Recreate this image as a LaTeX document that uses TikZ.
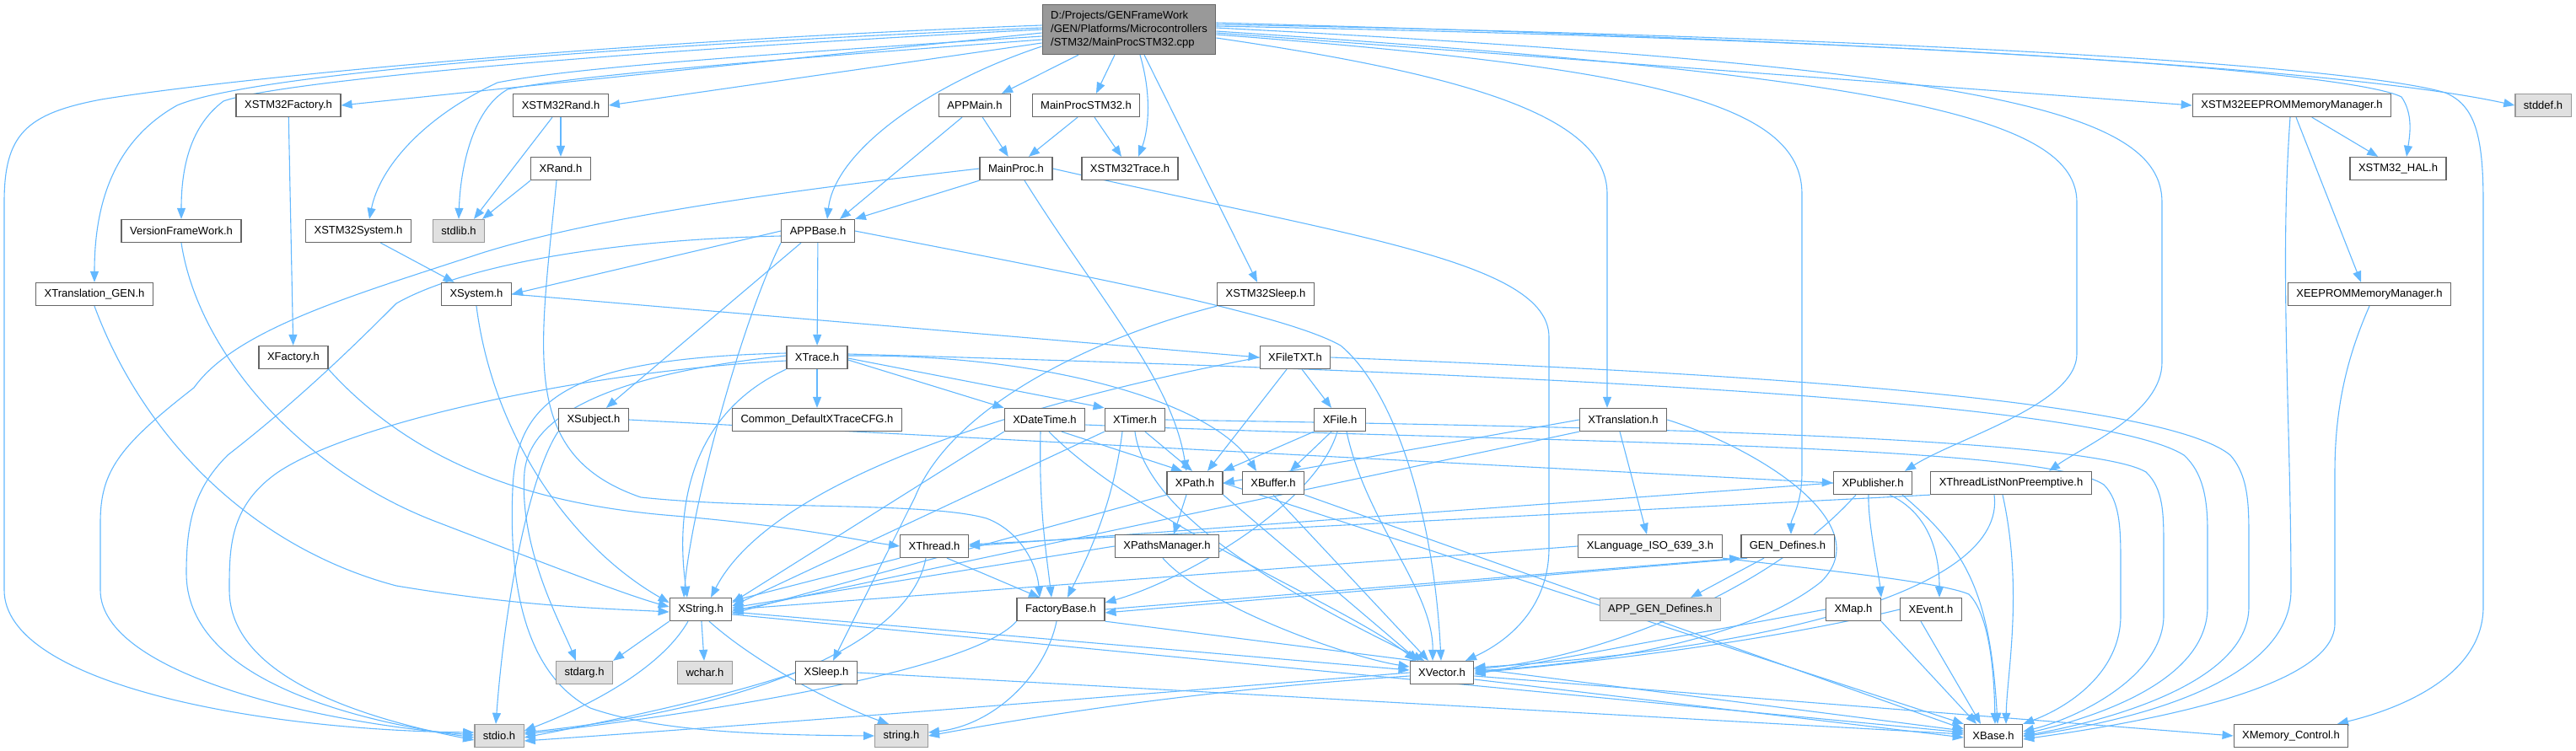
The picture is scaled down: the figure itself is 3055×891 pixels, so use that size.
\documentclass[tikz,border=0pt]{standalone}
\usepackage{fontspec}
\setmainfont{Liberation Sans}
\usepackage{xcolor}
\usetikzlibrary{arrows.meta,positioning,backgrounds}

\definecolor{edgeblue}{HTML}{63B8FF}
\definecolor{boxline}{HTML}{666666}
\definecolor{sysline}{HTML}{999999}
\definecolor{sysfill}{HTML}{E0E0E0}
\definecolor{srcfill}{HTML}{999999}

\begin{document}
\begin{tikzpicture}[
    x=1pt, y=-1pt,
    font=\fontsize{13}{16}\selectfont,
    hdr/.style={
        draw=boxline,
        line width=1.3pt,
        fill=white,
        minimum height=27pt,
        inner xsep=10pt,
        inner ysep=0pt
    },
    sys/.style={
        hdr,
        draw=sysline,
        fill=sysfill
    },
    srcfile/.style={
        hdr,
        fill=srcfill,
        align=left,
        minimum height=59pt
    },
    arr/.style={
        -{Triangle[length=13pt,width=10pt]},
        draw=edgeblue,
        line width=1.1pt
    }
]

\useasboundingbox (0,0) rectangle (3055,891);

% source file
\node[srcfile] (root) at (1339,35)
{D:/Projects/GENFrameWork\\/GEN/Platforms/Microcontrollers\\/STM32/MainProcSTM32.cpp};

% first row
\node[hdr] (xstmfactory) at (342,125) {XSTM32Factory.h};
\node[hdr] (xstmrand) at (665,125) {XSTM32Rand.h};
\node[hdr] (appmain) at (1156,125) {APPMain.h};
\node[hdr] (mainprocstm) at (1288,125) {MainProcSTM32.h};
\node[hdr] (xstmeeprom) at (2718,125) {XSTM32EEPROMMemoryManager.h};
\node[sys] (stddef) at (3016,125) {stddef.h};

% second row
\node[hdr] (xrand) at (665,200) {XRand.h};
\node[hdr] (mainproc) at (1205,200) {MainProc.h};
\node[hdr] (xstmtrace) at (1340,200) {XSTM32Trace.h};
\node[hdr] (xstmhal) at (2844,200) {XSTM32\_HAL.h};

% third row
\node[hdr] (versionfw) at (215,274) {VersionFrameWork.h};
\node[hdr] (xstmsystem) at (425,274) {XSTM32System.h};
\node[sys] (stdlib) at (544,274) {stdlib.h};
\node[hdr] (appbase) at (970,274) {APPBase.h};

% fourth row
\node[hdr] (xtransgen) at (112,349) {XTranslation\_GEN.h};
\node[hdr] (xsystem) at (565,349) {XSystem.h};
\node[hdr] (xstmsleep) at (1501,349) {XSTM32Sleep.h};
\node[hdr] (xeeprom) at (2810,349) {XEEPROMMemoryManager.h};

% fifth row
\node[hdr] (xfactory) at (348,424) {XFactory.h};
\node[hdr] (xtrace) at (969,424) {XTrace.h};
\node[hdr] (xfiletxt) at (1536,424) {XFileTXT.h};

% sixth row
\node[hdr] (xsubject) at (704,498) {XSubject.h};
\node[hdr] (tracecfg) at (969,498) {Common\_DefaultXTraceCFG.h};
\node[hdr] (xdatetime) at (1239,498) {XDateTime.h};
\node[hdr] (xtimer) at (1346,498) {XTimer.h};
\node[hdr] (xfile) at (1589,498) {XFile.h};
\node[hdr] (xtranslation) at (1925,498) {XTranslation.h};

% seventh row
\node[hdr] (xpath) at (1417,573) {XPath.h};
\node[hdr] (xbuffer) at (1510,573) {XBuffer.h};
\node[hdr] (xpublisher) at (2221,573) {XPublisher.h};
\node[hdr] (xthreadlist) at (2385,573) {XThreadListNonPreemptive.h};

% eighth row
\node[hdr] (xthread) at (1108,648) {XThread.h};
\node[hdr] (xpathsmgr) at (1384,648) {XPathsManager.h};
\node[hdr] (xlanguage) at (1957,648) {XLanguage\_ISO\_639\_3.h};
\node[hdr] (gendefines) at (2120,648) {GEN\_Defines.h};

% ninth row
\node[hdr] (xstring) at (831,723) {XString.h};
\node[hdr] (factorybase) at (1258,723) {FactoryBase.h};
\node[sys] (appgendefines) at (1969,723) {APP\_GEN\_Defines.h};
\node[hdr] (xmap) at (2198,723) {XMap.h};
\node[hdr] (xevent) at (2290,723) {XEvent.h};

% tenth row
\node[sys] (stdarg) at (693,798) {stdarg.h};
\node[sys] (wchar) at (836,798) {wchar.h};
\node[hdr] (xsleep) at (980,798) {XSleep.h};
\node[hdr] (xvector) at (1710,798) {XVector.h};

% last row
\node[sys] (stdio) at (592,873) {stdio.h};
\node[sys] (stringh) at (1069,873) {string.h};
\node[hdr] (xbase) at (2364,873) {XBase.h};
\node[hdr] (xmemctrl) at (2717,873) {XMemory\_Control.h};

\begin{scope}[on background layer]
% from the source file
\draw[arr] ([yshift=5pt]root.west) .. controls (700,50) and (260,95) .. (120,118)
    .. controls (30,135) and (5,160) .. (5,240) -- (5,700)
    .. controls (5,810) and (300,866) .. ([yshift=4pt]stdio.west);
\draw[arr] ([yshift=2pt]root.west) .. controls (600,60) and (280,95) .. (210,125)
    .. controls (130,170) and (112,250) .. (xtransgen.north);
\draw[arr] (root.west) .. controls (650,65) and (320,100) .. (265,120)
    .. controls (225,150) and (215,200) .. (versionfw.north);
\draw[arr] ([yshift=-4pt]root.west) -- (xstmfactory.east);
\draw[arr] ([yshift=-8pt]root.west) .. controls (900,65) and (680,80) .. (590,98)
    .. controls (500,140) and (450,200) .. ([xshift=13pt]xstmsystem.north);
\draw[arr] ([yshift=-12pt]root.west) .. controls (900,72) and (680,90) .. (602,106)
    .. controls (560,130) and (546,200) .. (stdlib.north);
\draw[arr] ([yshift=-16pt]root.west) -- (xstmrand.east);
\draw[arr] ([yshift=-20pt]root.west) .. controls (1100,100) and (990,180) .. ([xshift=11pt]appbase.north);
\draw[arr] ([xshift=-60pt]root.south) -- ([xshift=32pt]appmain.north);
\draw[arr] ([xshift=-17pt]root.south) -- ([xshift=12pt]mainprocstm.north);
\draw[arr] ([xshift=13pt]root.south) .. controls (1368,120) and (1360,160) .. ([xshift=10pt]xstmtrace.north);
\draw[arr] ([xshift=18pt]root.south) -- ([xshift=-10pt]xstmsleep.north);
\draw[arr] ([yshift=-10pt]root.east) .. controls (1750,90) and (1906,140) .. (1906,230)
    -- ([xshift=-19pt]xtranslation.north);
\draw[arr] ([yshift=-6pt]root.east) .. controls (1950,80) and (2137,120) .. (2137,230)
    -- (2137,560) .. controls (2137,600) and (2124,615) .. ([xshift=4pt]gendefines.north);
\draw[arr] ([yshift=-2pt]root.east) .. controls (2250,90) and (2463,140) .. (2463,240)
    -- (2463,420) .. controls (2463,480) and (2320,520) .. ([xshift=38pt]xpublisher.north);
\draw[arr] ([yshift=2pt]root.east) .. controls (2350,80) and (2564,130) .. (2564,240)
    -- (2564,430) .. controls (2564,490) and (2470,530) .. ([xshift=45pt]xthreadlist.north);
\draw[arr] ([yshift=-4pt]root.east) -- (xstmeeprom.west);
\draw[arr] ([yshift=4pt]root.east) .. controls (2400,50) and (2800,90) .. (2848,115)
    .. controls (2862,135) and (2858,160) .. ([xshift=10pt]xstmhal.north);
\draw[arr] ([yshift=6pt]root.east) .. controls (2300,45) and (2800,80) .. (2900,110)
    .. controls (2935,125) and (2945,160) .. (2945,240)
    -- (2945,720) .. controls (2945,800) and (2850,840) .. ([xshift=55pt]xmemctrl.north);
\draw[arr] ([yshift=8pt]root.east) .. controls (2300,50) and (2800,85) .. (stddef.west);

% upper rows
\draw[arr] (xstmfactory) -- (xfactory);
\draw[arr] (xstmrand) -- (xrand);
\draw[arr] ([xshift=-10pt]xstmrand.south) -- ([xshift=18pt]stdlib.north);
\draw[arr] (xrand.south west) -- ([xshift=28pt]stdlib.north);
\draw[arr] ([xshift=-5pt]xrand.south) .. controls (640,420) and (615,540) .. (760,590)
    .. controls (900,605) and (1100,595) .. (1170,615)
    .. controls (1210,630) and (1230,670) .. ([xshift=-25pt]factorybase.north);
\draw[arr] (appmain) -- (mainproc);
\draw[arr] ([xshift=-15pt]appmain.south) -- ([xshift=26pt]appbase.north);
\draw[arr] ([xshift=-10pt]mainprocstm.south) -- ([xshift=15pt]mainproc.north);
\draw[arr] ([xshift=10pt]mainprocstm.south) -- ([xshift=-10pt]xstmtrace.north);
\draw[arr] (mainproc.south west) -- (appbase.north east);
\draw[arr] (mainproc.west) .. controls (900,230) and (700,260) .. (572,300)
    .. controls (420,350) and (280,390) .. (230,460)
    .. controls (140,530) and (119,560) .. (119,620) -- (119,700)
    .. controls (119,800) and (380,858) .. ([yshift=1pt]stdio.west);
\draw[arr] ([xshift=10pt]mainproc.south) .. controls (1300,350) and (1390,450) .. ([xshift=-10pt]xpath.north);
\draw[arr] (mainproc.east) .. controls (1600,280) and (1837,310) .. (1837,400)
    -- (1837,650) .. controls (1837,720) and (1790,760) .. ([xshift=28pt]xvector.north);

% third and fourth rows
\draw[arr] (versionfw.south) .. controls (235,420) and (360,560) .. (520,620)
    .. controls (650,670) and (740,705) .. ([yshift=3pt]xstring.west);
\draw[arr] (xstmsystem) -- (xsystem);
\draw[arr] (appbase.west) -- (xsystem.east);
\draw[arr] (appbase) -- (xtrace);
\draw[arr] ([xshift=-20pt]appbase.south) -- ([xshift=15pt]xsubject.north);
\draw[arr] (appbase.south west) .. controls (880,380) and (820,600) .. ([xshift=-20pt]xstring.north);
\draw[arr] ([yshift=-6pt]appbase.west) .. controls (700,285) and (540,320) .. (470,360)
    .. controls (430,400) and (360,470) .. (270,540)
    .. controls (230,580) and (221,620) .. (221,680)
    .. controls (221,800) and (400,852) .. ([yshift=-2pt]stdio.west);
\draw[arr] (appbase.east) .. controls (1250,320) and (1520,370) .. (1590,410)
    .. controls (1650,460) and (1700,600) .. ([xshift=-1pt]xvector.north);
\draw[arr] (xtransgen.south) .. controls (170,520) and (300,650) .. (470,695)
    .. controls (620,720) and (720,722) .. ([yshift=-3pt]xstring.west);
\draw[arr] (xsystem.south) .. controls (585,520) and (680,650) .. ([yshift=8pt]xstring.west);
\draw[arr] (xsystem.east) -- (xfiletxt.west);
\draw[arr] (xstmsleep.south west) .. controls (1300,400) and (1130,480) .. (1085,590)
    -- ([xshift=8pt]xsleep.north);
\draw[arr] (xstmeeprom) -- (xstmhal);
\draw[arr] ([xshift=5pt]xstmeeprom.south) -- ([xshift=-10pt]xeeprom.north);
\draw[arr] ([xshift=-2pt]xstmeeprom.south) .. controls (2703,320) and (2717,500) .. (2717,700)
    .. controls (2717,800) and (2560,850) .. ([yshift=-1pt]xbase.east);
\draw[arr] (xeeprom.south) .. controls (2785,420) and (2769,480) .. (2769,560) -- (2769,740)
    .. controls (2769,820) and (2520,860) .. ([yshift=-4pt]xbase.east);

% fifth row
\draw[arr] (xfactory.south east) .. controls (500,560) and (650,600) .. (800,612)
    .. controls (950,625) and (1010,640) .. (xthread.west);
\draw[arr] (xtrace) -- (tracecfg);
\draw[arr] ([yshift=-3pt]xtrace.east) -- (xdatetime.north west);
\draw[arr] ([yshift=-1pt]xtrace.east) -- (xtimer.north west);
\draw[arr] ([yshift=2pt]xtrace.east) .. controls (1250,420) and (1440,480) .. ([xshift=-20pt]xbuffer.north);
\draw[arr] ([yshift=4pt]xtrace.east) .. controls (1700,440) and (2480,470) .. (2590,540)
    .. controls (2612,560) and (2618,590) .. (2618,630) -- (2618,720)
    .. controls (2618,810) and (2480,852) .. ([yshift=2pt]xbase.east);
\draw[arr] (xtrace.south west) .. controls (820,490) and (800,600) .. ([xshift=-16pt]xstring.north);
\draw[arr] ([yshift=-4pt]xtrace.west) .. controls (700,440) and (420,500) .. (330,560)
    .. controls (272,600) and (272,650) .. (272,700)
    .. controls (272,800) and (420,850) .. ([yshift=-5pt]stdio.west);
\draw[arr] ([yshift=2pt]xtrace.west) .. controls (760,440) and (630,480) .. (622,560)
    .. controls (615,650) and (665,740) .. ([xshift=-10pt]stdarg.north);
\draw[arr] ([yshift=5pt]xtrace.west) .. controls (680,425) and (612,470) .. (608,580)
    .. controls (603,700) and (625,800) .. (700,840)
    .. controls (780,868) and (900,872) .. (stringh.west);
\draw[arr] ([xshift=8pt]xfiletxt.south) -- ([xshift=-10pt]xfile.north);
\draw[arr] ([xshift=-10pt]xfiletxt.south) -- ([xshift=15pt]xpath.north);
\draw[arr] (xfiletxt.west) .. controls (1250,470) and (920,560) .. ([xshift=12pt]xstring.north);
\draw[arr] (xfiletxt.east) .. controls (2000,440) and (2560,470) .. (2645,540)
    .. controls (2667,565) and (2667,600) .. (2667,640) -- (2667,720)
    .. controls (2667,810) and (2500,855) .. (xbase.east);

% sixth row
\draw[arr] (xsubject.east) -- (xpublisher.west);
\draw[arr] (xsubject.south west) .. controls (630,560) and (600,700) .. ([xshift=-4pt]stdio.north);
\draw[arr] (xdatetime.south west) -- ([yshift=8pt]xstring.east);
\draw[arr] ([xshift=-5pt]xdatetime.south) .. controls (1232,600) and (1240,650) .. ([xshift=-11pt]factorybase.north);
\draw[arr] ([xshift=5pt]xdatetime.south) .. controls (1350,620) and (1600,720) .. ([xshift=-31pt]xvector.north);
\draw[arr] ([xshift=20pt]xdatetime.south) -- ([xshift=-15pt]xpath.north);
\draw[arr] ([yshift=-6pt]xdatetime.east) .. controls (1800,525) and (2420,525) .. (2495,575)
    .. controls (2515,595) and (2515,630) .. (2515,670) -- (2515,730)
    .. controls (2515,800) and (2450,840) .. (xbase.north east);
\draw[arr] (xtimer.south west) -- ([yshift=4pt]xstring.east);
\draw[arr] ([xshift=-15pt]xtimer.south) .. controls (1320,600) and (1290,660) .. ([xshift=8pt]factorybase.north);
\draw[arr] (xtimer.south) .. controls (1360,620) and (1560,720) .. ([xshift=-21pt]xvector.north);
\draw[arr] ([xshift=12pt]xtimer.south) -- ([xshift=-3pt]xpath.north);
\draw[arr] (xtimer.east) .. controls (1800,505) and (2470,515) .. (2545,560)
    .. controls (2566,580) and (2566,610) .. (2566,650) -- (2566,730)
    .. controls (2566,800) and (2470,850) .. ([yshift=5pt]xbase.east);
\draw[arr] ([xshift=-10pt]xfile.south) -- ([xshift=20pt]xbuffer.north);
\draw[arr] (xfile.south west) -- (xpath.north east);
\draw[arr] ([xshift=-3pt]xfile.south) .. controls (1560,600) and (1400,690) .. ([yshift=8pt]factorybase.east);
\draw[arr] ([xshift=8pt]xfile.south) .. controls (1620,620) and (1700,700) .. ([xshift=-11pt]xvector.north);
\draw[arr] (xtranslation.west) -- (xpath.east);
\draw[arr] (xtranslation.south west) -- ([yshift=-2pt]xstring.east);
\draw[arr] ([xshift=-4pt]xtranslation.south) -- ([xshift=-4pt]xlanguage.north);
\draw[arr] (xtranslation.east) .. controls (2080,530) and (2230,620) .. (2160,690)
    .. controls (2060,770) and (1850,790) .. ([yshift=2pt]xvector.east);

% seventh row
\draw[arr] ([xshift=-10pt]xpath.south) -- ([xshift=8pt]xpathsmgr.north);
\draw[arr] (xpath.south west) -- ([yshift=-5pt]xstring.east);
\draw[arr] (xpath.south east) -- ([xshift=-28pt]xvector.north);
\draw[arr] (xpath.east) -- (xbase.north west);
\draw[arr] (xbuffer.south) -- ([xshift=-16pt]xvector.north);
\draw[arr] (xbuffer.south east) -- ([yshift=8pt]xbase.west);
\draw[arr] (xpublisher.west) -- (xthread.east);
\draw[arr] ([xshift=-5pt]xpublisher.south) .. controls (2215,620) and (2228,680) .. (xmap.north east);
\draw[arr] ([xshift=20pt]xpublisher.south) .. controls (2290,610) and (2300,660) .. ([xshift=10pt]xevent.north);
\draw[arr] ([xshift=-20pt]xpublisher.south) .. controls (2100,700) and (1900,780) .. ([yshift=4pt]xvector.east);
\draw[arr] ([xshift=35pt]xpublisher.south) .. controls (2330,650) and (2360,700) .. ([xshift=5pt]xbase.north);
\draw[arr] (xthreadlist.south west) -- ([yshift=2pt]xthread.east);
\draw[arr] ([xshift=-20pt]xthreadlist.south) .. controls (2380,700) and (2100,770) .. ([yshift=6pt]xvector.east);
\draw[arr] ([xshift=-10pt]xthreadlist.south) .. controls (2400,700) and (2380,800) .. ([xshift=15pt]xbase.north);

% eighth row
\draw[arr] (xthread.south west) -- ([yshift=10pt]xstring.east);
\draw[arr] ([xshift=15pt]xthread.south) -- ([xshift=-25pt]factorybase.north);
\draw[arr] ([xshift=-10pt]xthread.south) .. controls (1080,760) and (900,840) .. ([yshift=4pt]stdio.east);
\draw[arr] (xpathsmgr.west) -- ([yshift=2pt]xstring.east);
\draw[arr] ([xshift=-5pt]xpathsmgr.south) .. controls (1430,720) and (1600,780) .. ([yshift=7pt]xvector.west);
\draw[arr] (xlanguage.west) -- (xstring.east);
\draw[arr] (xlanguage.south east) .. controls (2150,675) and (2300,690) .. (2335,705)
    .. controls (2360,730) and (2365,800) .. ([xshift=2pt]xbase.north);
\draw[arr] ([xshift=-28pt]gendefines.south) -- ([xshift=36pt]appgendefines.north);
\draw[arr] ([xshift=8pt]gendefines.south west) -- ([yshift=-4pt]factorybase.east);
\draw[arr] (factorybase.east) -- (gendefines.south west);

% ninth row
\draw[arr] (xstring.south west) -- (stdarg.north east);
\draw[arr] (xstring) -- (wchar);
\draw[arr] ([xshift=-15pt]xstring.south) .. controls (780,800) and (680,845) .. ([yshift=6pt]stdio.east);
\draw[arr] ([xshift=10pt]xstring.south) .. controls (900,790) and (1000,840) .. ([xshift=-15pt]stringh.north);
\draw[arr] ([yshift=-3pt]xstring.east) -- ([yshift=3pt]xvector.west);
\draw[arr] ([yshift=-6pt]xstring.east) -- ([yshift=4pt]xbase.west);
\draw[arr] (factorybase.south west) .. controls (1150,800) and (800,850) .. ([yshift=2pt]stdio.east);
\draw[arr] ([xshift=-5pt]factorybase.south) .. controls (1240,800) and (1180,860) .. ([yshift=4pt]stringh.east);
\draw[arr] (factorybase.south east) -- ([yshift=6pt]xbase.west);
\draw[arr] (xmap.west) -- ([yshift=-2pt]xvector.east);
\draw[arr] (xmap.south east) -- ([xshift=-20pt]xbase.north);
\draw[arr] (xevent.west) .. controls (2100,760) and (1900,785) .. (xvector.east);
\draw[arr] ([xshift=-12pt]xevent.south) -- ([xshift=-15pt]xbase.north);

% tenth row
\draw[arr] (xsleep.west) .. controls (850,830) and (700,860) .. ([yshift=-2pt]stdio.east);
\draw[arr] (xsleep.east) -- ([yshift=2pt]xbase.west);
\draw[arr] (xvector.west) .. controls (1400,820) and (900,860) .. ([yshift=-6pt]stdio.east);
\draw[arr] ([yshift=-4pt]xvector.west) .. controls (1400,820) and (1200,855) .. (stringh.east);
\draw[arr] ([yshift=-8pt]xvector.east) -- ([yshift=-2pt]xbase.west);
\draw[arr] ([yshift=-4pt]xvector.east) -- (xmemctrl.west);
\end{scope}

\end{tikzpicture}
\end{document}
